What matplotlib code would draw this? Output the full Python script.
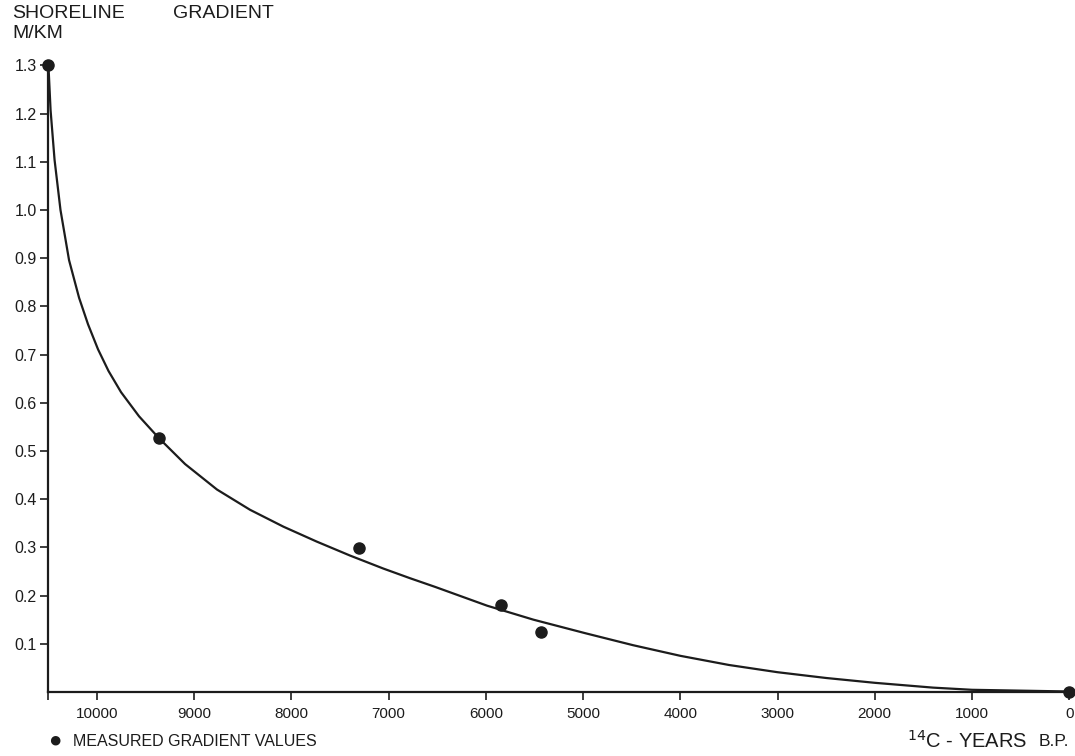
import matplotlib
matplotlib.use("Agg")
import matplotlib.pyplot as plt

plt.rcParams['font.family'] = ['Liberation Sans', 'DejaVu Sans']

# measured gradient values (14C years BP, m/km)
measured_years = [10500, 9365, 7305, 5846, 5436, 0]
measured_vals = [1.30, 0.526, 0.299, 0.180, 0.124, 0.0]

# fitted curve
curve_years = [10500, 10478, 10437, 10376, 10288, 10185, 10093, 9990, 9882,
               9753, 9568, 9365, 9095, 8766, 8426, 8083, 7740, 7397, 7054,
               6780, 6522, 5987, 5511, 4979, 4485, 4000, 3500, 3000, 2500,
               2000, 1400, 1000, 0]
curve_vals = [1.30, 1.207, 1.104, 1.000, 0.896, 0.818, 0.763, 0.711, 0.666,
              0.622, 0.572, 0.527, 0.473, 0.420, 0.378, 0.343, 0.312, 0.283,
              0.256, 0.236, 0.218, 0.179, 0.150, 0.122, 0.097, 0.075, 0.056,
              0.041, 0.029, 0.019, 0.009, 0.0045, 0.001]

x_ticks = [10500, 10000, 9000, 8000, 7000, 6000, 5000, 4000, 3000, 2000, 1000, 0]
x_labels = ["", "10000", "9000", "8000", "7000", "6000", "5000", "4000",
            "3000", "2000", "1000", "0"]
y_ticks = [0.1, 0.2, 0.3, 0.4, 0.5, 0.6, 0.7, 0.8, 0.9, 1.0, 1.1, 1.2, 1.3]

ink = '#1c1c1c'

fig = plt.figure(figsize=(10.75, 7.56), dpi=100)
ax = fig.add_axes([0.0447, 0.0847, 0.9553, 0.8351])

ax.plot(curve_years, curve_vals, color=ink, lw=1.6, clip_on=False, zorder=3,
        solid_joinstyle='round')
ax.plot(measured_years, measured_vals, 'o', color=ink, ms=8, clip_on=False, zorder=4)

ax.set_xlim(10504, -60)
ax.set_ylim(0, 1.31)

ax.spines['top'].set_visible(False)
ax.spines['right'].set_visible(False)
for s in ('left', 'bottom'):
    ax.spines[s].set_color(ink)
    ax.spines[s].set_linewidth(1.6)

ax.set_xticks(x_ticks)
ax.set_xticklabels(x_labels)
ax.set_yticks(y_ticks)
ax.set_yticklabels([f"{t:.1f}" for t in y_ticks])
ax.tick_params(axis='x', direction='out', length=6, width=1.2, color=ink,
               labelsize=11, pad=5, labelcolor=ink)
ax.tick_params(axis='y', direction='out', length=6, width=1.2, color=ink,
               labelsize=11.5, pad=2, labelcolor=ink)

# titles
fig.text(12/1075, 1 - 14/756, "SHORELINE", fontsize=14, color=ink, va='center', ha='left')
fig.text(173/1075, 1 - 14/756, "GRADIENT", fontsize=14, color=ink, va='center', ha='left')
fig.text(12/1075, 1 - 33/756, "M/KM", fontsize=14, color=ink, va='center', ha='left')

# legend
fig.text(55/1075, 1 - 741/756, "\u25CF", fontsize=16, color=ink, va='center', ha='center')
fig.text(73/1075, 1 - 741/756, "MEASURED GRADIENT VALUES", fontsize=11.5, color=ink,
         va='center', ha='left')

# x label
fig.text(1027/1075, 1 - 741/756, r"$^{14}$C - YEARS", fontsize=14.5, color=ink,
         va='center', ha='right')
fig.text(1069/1075, 1 - 742/756, "B.P.", fontsize=12.5, color=ink, va='center', ha='right')

fig.savefig("out.png", dpi=100)
